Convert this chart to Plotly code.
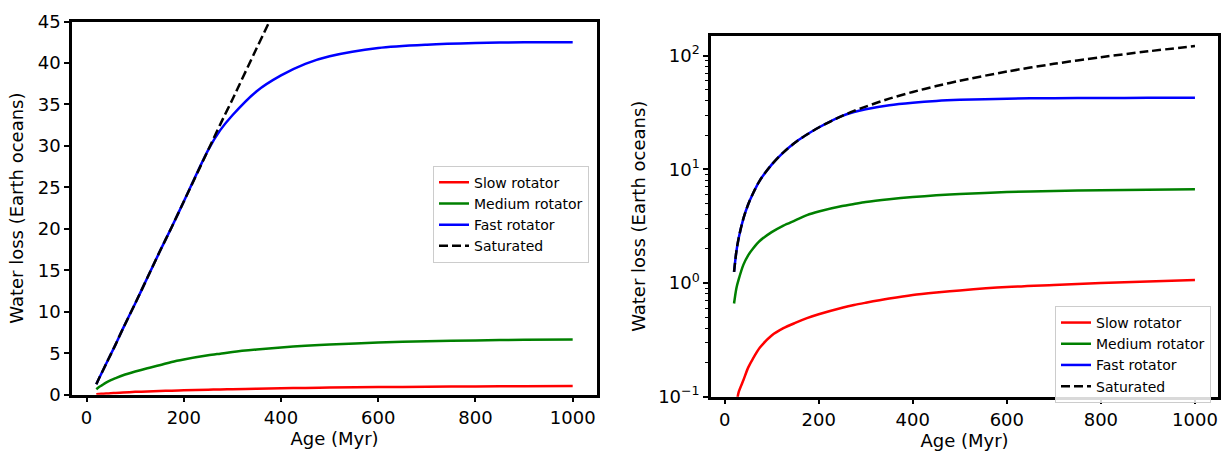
import plotly.graph_objects as go

# ---- data ----
age = [20, 25, 30, 40, 50, 60, 75, 100, 125, 150, 175, 200, 250, 275, 300,
       350, 400, 450, 500, 600, 700, 800, 900, 1000]
slow = [0.055, 0.085, 0.11, 0.14, 0.18, 0.215, 0.27, 0.345, 0.40, 0.445, 0.49,
        0.53, 0.605, 0.64, 0.67, 0.73, 0.785, 0.825, 0.86, 0.92, 0.96, 1.0,
        1.03, 1.06]
medium = [0.66, 0.9, 1.08, 1.45, 1.75, 2.0, 2.35, 2.8, 3.2, 3.55, 3.95, 4.25,
          4.75, 4.95, 5.15, 5.45, 5.7, 5.9, 6.05, 6.3, 6.45, 6.55, 6.62, 6.67]
fast = [1.25, 1.9, 2.5, 3.7, 4.9, 6.1, 8.0, 11.0, 14.1, 17.2, 20.2, 23.3,
        29.5, 31.9, 33.7, 36.6, 38.5, 39.9, 40.8, 41.8, 42.2, 42.4, 42.5, 42.5]
saturated = [1.25, 1.9, 2.5, 3.7, 4.9, 6.1, 8.0, 11.0, 14.1, 17.2, 20.2, 23.3,
             29.5, 32.6, 35.6, 41.8, 47.9, 54.0, 60.1, 72.4, 84.6, 96.8,
             109.0, 121.2]

names = ["Slow rotator", "Medium rotator", "Fast rotator", "Saturated"]
series = [slow, medium, fast, saturated]
colors = ["#ff0000", "#008000", "#0000ff", "#000000"]
dashes = ["solid", "solid", "solid", "9px,4px"]

x_ticks = [0, 200, 400, 600, 800, 1000]
left_y_ticks = [0, 5, 10, 15, 20, 25, 30, 35, 40, 45]
log_y_ticks = [0.1, 1, 10, 100]
log_y_ticktext = ["10<sup>\u22121</sup>", "10<sup>0</sup>", "10<sup>1</sup>", "10<sup>2</sup>"]
log_minor_ticks = [m * d for d in (0.1, 1, 10, 100) for m in range(2, 10)]

W, H = 1232, 462
FONT = "DejaVu Sans"

fig = go.Figure()

for nm, ys, c, d in zip(names, series, colors, dashes):
    fig.add_trace(go.Scatter(x=age, y=ys, mode="lines", name=nm,
                             line=dict(color=c, width=2.5, dash=d, shape="spline",
                                       smoothing=0.8),
                             xaxis="x", yaxis="y", legend="legend"))
for nm, ys, c, d in zip(names, series, colors, dashes):
    fig.add_trace(go.Scatter(x=age, y=ys, mode="lines", name=nm,
                             line=dict(color=c, width=2.5, dash=d, shape="spline",
                                       smoothing=0.8),
                             xaxis="x2", yaxis="y2", legend="legend2"))

axis_common = dict(showline=True, linecolor="black", linewidth=2.5, mirror=True,
                   ticks="outside", ticklen=5, tickwidth=1.5, tickcolor="black",
                   showgrid=False, zeroline=False,
                   tickfont=dict(family=FONT, size=18, color="black"),
                   title_font=dict(family=FONT, size=18, color="black"))

fig.update_layout(
    width=W, height=H,
    margin=dict(l=0, r=0, t=0, b=0),
    paper_bgcolor="white", plot_bgcolor="white",
    font=dict(family=FONT, color="black"),
    xaxis=dict(domain=[72 / W, 597 / W], range=[-30, 1050], tickvals=x_ticks,
               title=dict(text="Age (Myr)", standoff=4), anchor="y", **axis_common),
    yaxis=dict(domain=[1 - 402 / H, 1 - 11 / H], range=[0, 45], tickvals=left_y_ticks,
               title=dict(text="Water loss (Earth oceans)", standoff=10), anchor="x",
               **axis_common),
    xaxis2=dict(domain=[711 / W, 1218 / W], range=[-29, 1049], tickvals=x_ticks,
                title=dict(text="Age (Myr)", standoff=4), anchor="y2", **axis_common),
    yaxis2=dict(domain=[1 - 404 / H, 1 - 26 / H], type="log", range=[-1, 2.174],
                tickvals=log_y_ticks, ticktext=log_y_ticktext,
                minor=dict(ticks="outside", ticklen=3, tickwidth=1, tickcolor="black",
                           tickmode="array", tickvals=log_minor_ticks, showgrid=False),
                title=dict(text="Water loss (Earth oceans)", standoff=8), anchor="x2",
                **axis_common),
    legend=dict(x=589 / W, y=1 - 162 / H, xanchor="right", yanchor="top",
                bgcolor="rgba(255,255,255,0.85)", bordercolor="#cccccc", borderwidth=1,
                font=dict(family=FONT, size=14, color="black")),
    legend2=dict(x=1211 / W, y=1 - 309 / H, xanchor="right", yanchor="top",
                 bgcolor="rgba(255,255,255,0.85)", bordercolor="#cccccc", borderwidth=1,
                 font=dict(family=FONT, size=14, color="black")),
)

fig.write_html("out.html",
               config={"displayModeBar": False},
               post_script="document.body.style.margin='0';"
                           "document.body.style.overflow='hidden';")
